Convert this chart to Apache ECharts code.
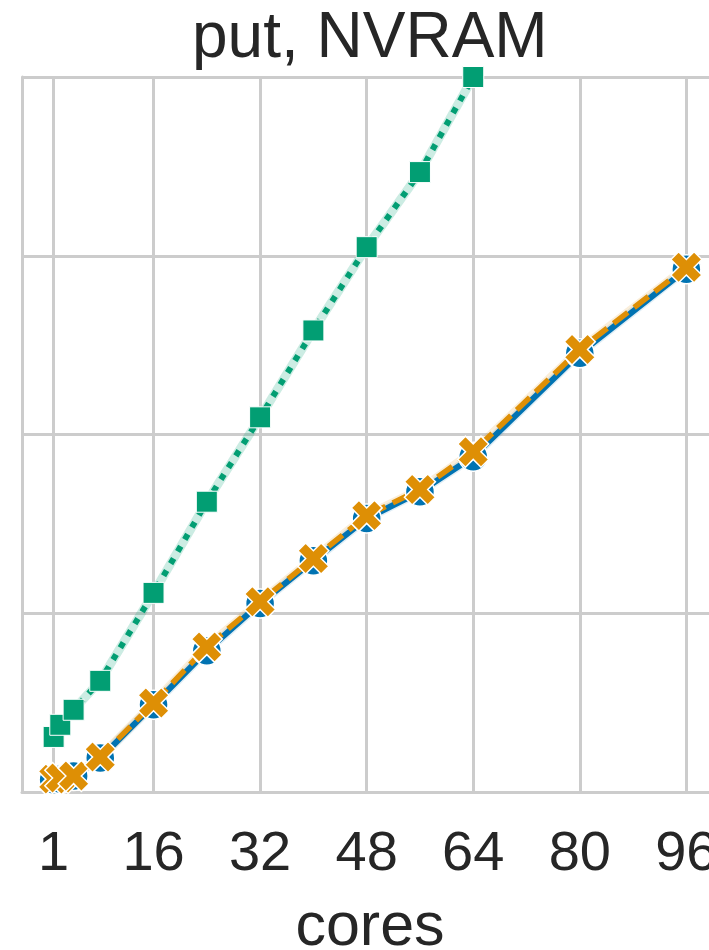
<!DOCTYPE html>
<html>
<head>
<meta charset="utf-8">
<script src="https://cdn.jsdelivr.net/npm/echarts@6/dist/echarts.min.js"></script>
<style>
  html, body { margin: 0; padding: 0; background: #ffffff; }
  #chart { width: 709px; height: 950px; }
</style>
</head>
<body>
<div id="chart"></div>
<script>
// Core counts measured and the tick positions shown on the x axis
const cores = [1, 2, 4, 8, 16, 24, 32, 40, 48, 56, 64, 80, 96];
const coreTicks = [1, 16, 32, 48, 64, 80, 96];

// Throughput per configuration (arbitrary units, axis labels hidden)
const solidRun  = [0.34, 0.36, 0.45, 0.95, 2.44, 3.95, 5.27, 6.47, 7.65, 8.40, 9.38, 12.27, 14.62];
const dashedRun = [0.36, 0.39, 0.45, 0.98, 2.49, 4.06, 5.32, 6.53, 7.73, 8.46, 9.52, 12.38, 14.68];
const dottedRun = [1.54, 1.88, 2.30, 3.11, 5.57, 8.12, 10.48, 12.91, 15.24, 17.34, 20.0];

const yTicks = { min: 0, max: 20, interval: 5 };

const BLUE = '#0173b2', ORANGE = '#de8f05', GREEN = '#029e73';
const GRID = '#cccccc', INK = '#262626';
const FONT = '"Liberation Sans", Arial, sans-serif';

const pairs = (ys) => ys.map((y, i) => [cores[i], y]);

// filled "X" marker with flat-cut arm ends
const xMarker = 'path://M2.5,0L5,2.5L7.5,0L10,2.5L7.5,5L10,7.5L7.5,10L5,7.5L2.5,10L0,7.5L2.5,5L0,2.5Z';

function band(ys, color, width) {
  return {
    type: 'line', data: pairs(ys), showSymbol: false, silent: true,
    lineStyle: { color: color, width: width, cap: 'round', join: 'round' },
    emphasis: { disabled: true }, animation: false
  };
}

const chart = echarts.init(document.getElementById('chart'), null, { renderer: 'canvas' });

chart.setOption({
  backgroundColor: '#ffffff',
  animation: false,
  textStyle: { fontFamily: FONT },
  title: {
    text: 'put, NVRAM',
    left: 187, top: 2,
    textStyle: { fontSize: 64, fontWeight: 'normal', color: INK, fontFamily: FONT }
  },
  // the plot area runs a little past the right edge of the page
  grid: { left: 22, top: 77, width: 696, height: 715, outerBoundsMode: 'none', containLabel: false },
  xAxis: {
    type: 'value', min: -3.75, max: 100.75,
    name: 'cores', nameLocation: 'middle', nameGap: 106,
    nameTextStyle: { fontSize: 61, color: INK, fontFamily: FONT },
    axisLine: { show: true, onZero: false, lineStyle: { color: GRID, width: 3 } },
    axisTick: { show: false, customValues: coreTicks },
    axisLabel: { customValues: coreTicks, fontSize: 56, color: INK, margin: 35, fontFamily: FONT },
    splitLine: { show: false }
  },
  yAxis: {
    type: 'value', min: yTicks.min, max: yTicks.max, interval: yTicks.interval,
    axisLine: { show: true, onZero: false, lineStyle: { color: GRID, width: 3 } },
    axisTick: { show: false },
    axisLabel: { show: false },
    splitLine: { show: true, lineStyle: { color: GRID, width: 3 } }
  },
  series: [
    {
      // vertical grid lines at the labelled core counts
      type: 'line', data: [], silent: true,
      markLine: {
        z: 1, silent: true, symbol: ['none', 'none'], animation: false,
        label: { show: false },
        lineStyle: { color: GRID, width: 3, type: 'solid' },
        emphasis: { disabled: true },
        data: coreTicks.map(v => ({ xAxis: v }))
      }
    },
    band(dottedRun, 'rgba(2,158,115,0.2)', 9),
    band(solidRun, 'rgba(1,115,178,0.12)', 9),
    band(dashedRun, 'rgba(222,143,5,0.15)', 9),
    {
      type: 'line', data: pairs(solidRun),
      symbol: 'circle', symbolSize: 29, showSymbol: true,
      itemStyle: { color: BLUE, borderColor: '#ffffff', borderWidth: 1.5 },
      lineStyle: { color: BLUE, width: 6 },
      emphasis: { disabled: true }
    },
    {
      type: 'line', data: pairs(dashedRun),
      symbol: xMarker, symbolSize: 31, showSymbol: true,
      itemStyle: { color: ORANGE, borderColor: '#ffffff', borderWidth: 1.5 },
      lineStyle: { color: ORANGE, width: 5.5, type: [18, 8], cap: 'butt' },
      emphasis: { disabled: true }
    },
    {
      type: 'line', data: pairs(dottedRun),
      symbol: 'rect', symbolSize: 21, showSymbol: true,
      itemStyle: { color: GREEN, borderColor: '#ffffff', borderWidth: 1 },
      lineStyle: { color: GREEN, width: 6, type: [6, 8], cap: 'butt' },
      emphasis: { disabled: true }
    }
  ]
});
</script>
</body>
</html>
